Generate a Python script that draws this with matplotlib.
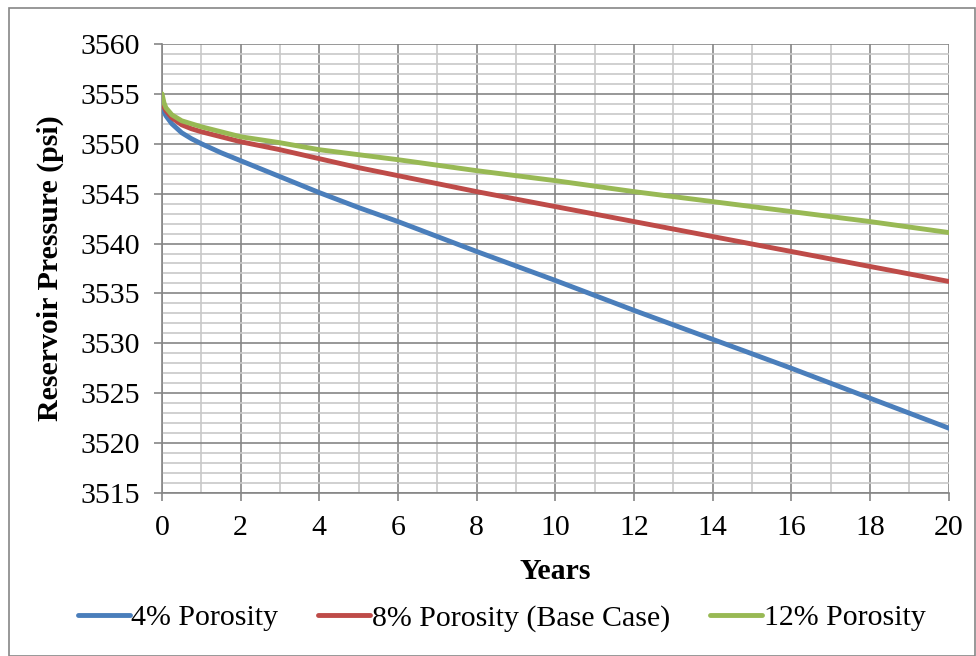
import numpy as np
import matplotlib.pyplot as plt
from matplotlib.ticker import MultipleLocator
from matplotlib.patches import Rectangle

# data
years = [0, 0.05, 0.1, 0.25, 0.5, 0.75, 1, 1.5, 2, 3, 4, 5, 6, 8, 10, 12, 14, 16, 18, 20]
p_4 = [3554.0, 3553.2, 3552.8, 3552.0, 3551.1, 3550.5, 3550.0, 3549.1, 3548.3, 3546.7,
       3545.1, 3543.6, 3542.2, 3539.2, 3536.3, 3533.3, 3530.4, 3527.5, 3524.5, 3521.5]
p_8 = [3554.5, 3553.7, 3553.3, 3552.6, 3551.9, 3551.5, 3551.2, 3550.7, 3550.2, 3549.4,
       3548.5, 3547.6, 3546.8, 3545.2, 3543.7, 3542.2, 3540.7, 3539.2, 3537.7, 3536.2]
p_12 = [3555.0, 3554.1, 3553.6, 3552.9, 3552.3, 3552.0, 3551.7, 3551.2, 3550.7, 3550.1,
        3549.4, 3548.9, 3548.4, 3547.3, 3546.3, 3545.2, 3544.2, 3543.2, 3542.2, 3541.1]

labels = ['4% Porosity', '8% Porosity (Base Case)', '12% Porosity']
colors = ['#4A7EBB', '#BE4B48', '#98B954']

plt.rcParams['font.family'] = ['Liberation Serif', 'DejaVu Serif']
fs = 21.5

fig = plt.figure(figsize=(9.76, 6.56), dpi=100)
ax = fig.add_axes([0.166, 0.2485, 0.806, 0.6845])

for y, lab, c in zip([p_4, p_8, p_12], labels, colors):
    ax.plot(years, y, color=c, lw=3.5, label=lab, solid_capstyle='round', zorder=3)

ax.set_xlim(0, 20)
ax.set_ylim(3515, 3560)
ax.xaxis.set_major_locator(MultipleLocator(2))
ax.xaxis.set_minor_locator(MultipleLocator(1))
ax.yaxis.set_major_locator(MultipleLocator(5))
ax.yaxis.set_minor_locator(MultipleLocator(1))

ax.grid(which='minor', color='#C8C8C8', lw=1.2, zorder=1)
ax.grid(which='major', color='#868686', lw=1.2, zorder=2)
ax.set_axisbelow(True)

for s in ['top', 'right']:
    ax.spines[s].set_visible(False)
for s in ['left', 'bottom']:
    ax.spines[s].set_color('#868686')
    ax.spines[s].set_linewidth(1.2)

ax.tick_params(which='major', length=5.8, width=1.2, color='#868686', labelsize=fs)
ax.tick_params(axis='y', pad=10)
ax.tick_params(axis='x', pad=10)
ax.tick_params(which='minor', length=0)

ax.set_xlabel('Years', fontsize=fs, fontweight='bold', labelpad=12)
ax.set_ylabel('Reservoir Pressure (psi)', fontsize=fs, fontweight='bold', labelpad=12)

fig.legend(loc='center', bbox_to_anchor=(0.514, 0.058), ncol=3, frameon=False,
           fontsize=fs, handlelength=1.74, handletextpad=0.05, columnspacing=1.34)

fig.patches.append(Rectangle((0.009, 0.0), 0.99, 0.988, transform=fig.transFigure,
                             fill=False, edgecolor='#868686', lw=1.2))

fig.savefig('out.png', dpi=100)
